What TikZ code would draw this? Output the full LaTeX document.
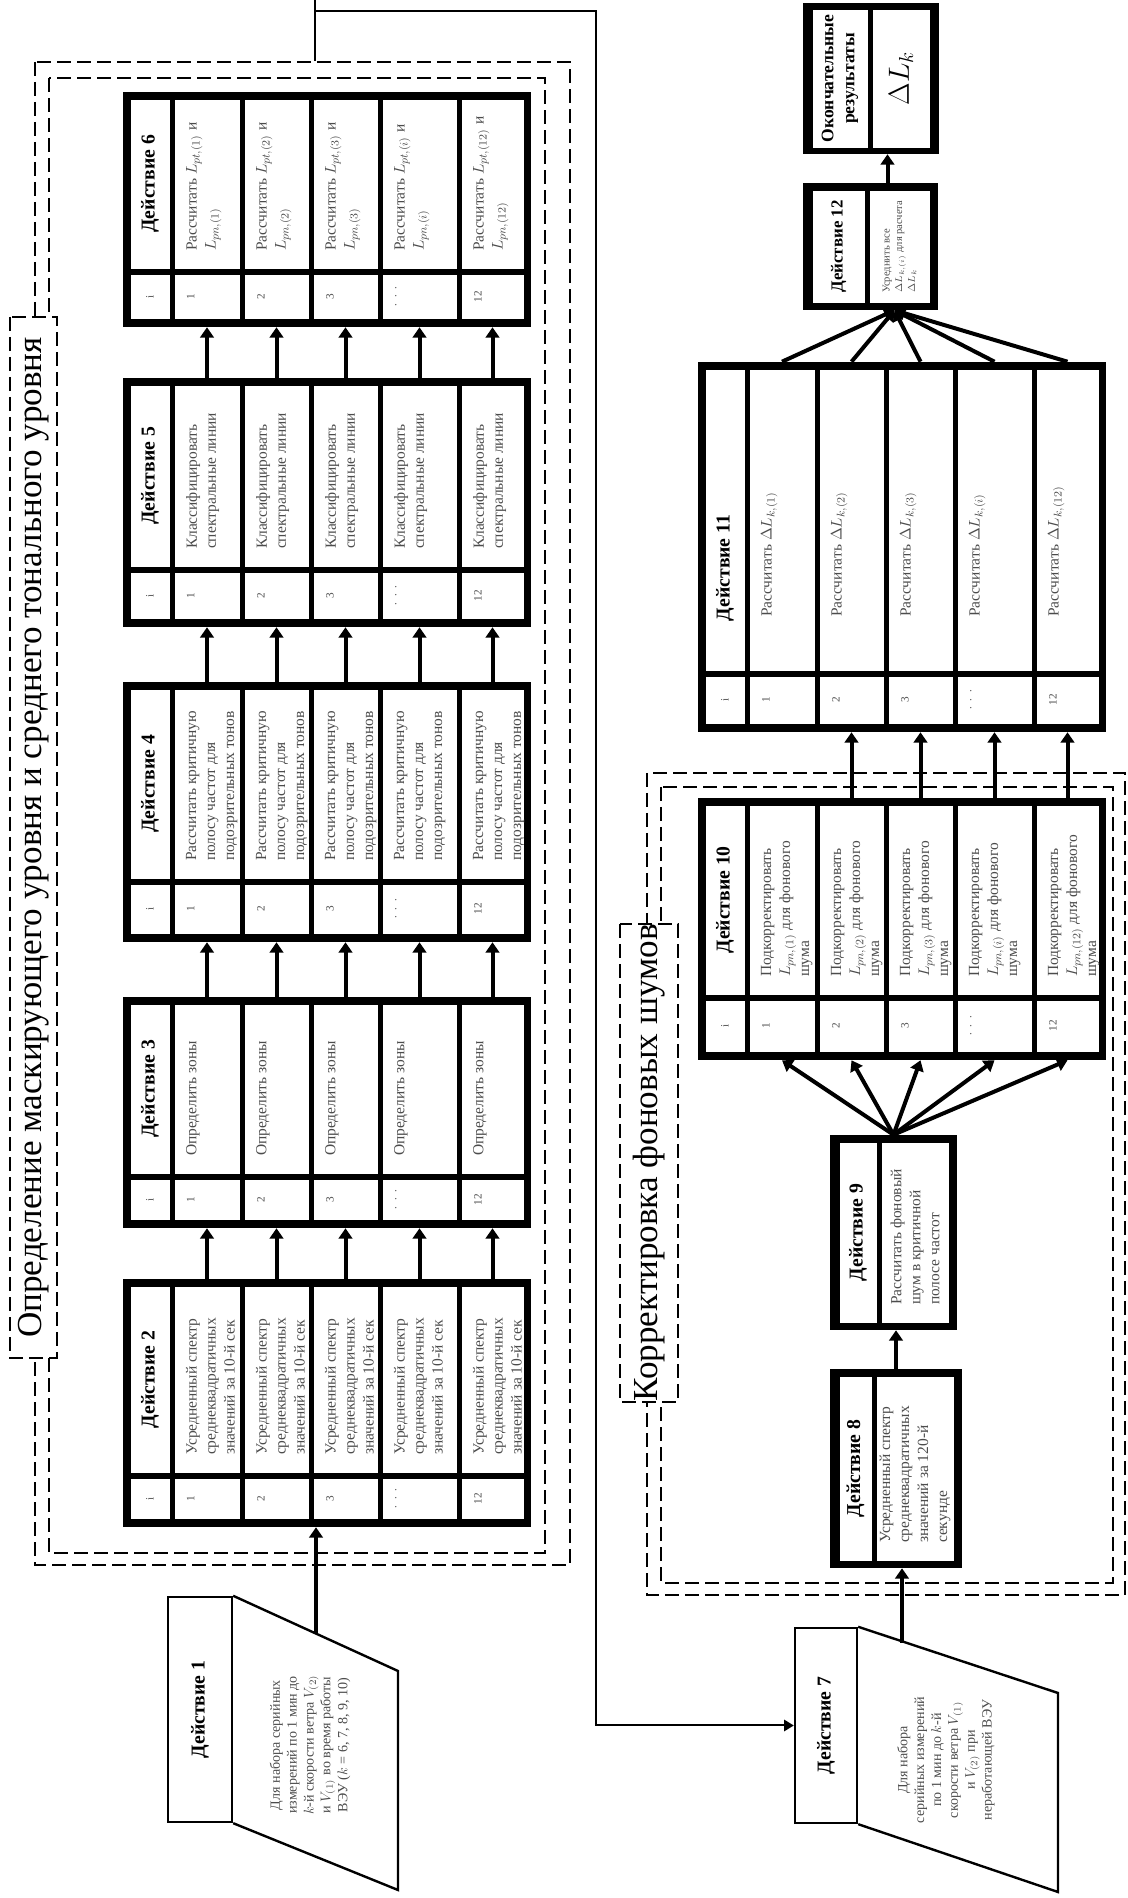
\documentclass[tikz,border=0pt]{standalone}
\usepackage{fontspec}
\setmainfont{Liberation Serif}
\usetikzlibrary{arrows.meta,calc,positioning}

\tikzset{
  frm/.style={fill=black,inner sep=0pt},
  cell/.style={draw=black,line width=0.3pt,fill=white,inner sep=0pt},
  hdr/.style={align=center,font=\fontsize{14}{16}\selectfont\bfseries},
  txt/.style={inner sep=0pt,align=left,text=black!70,font=\fontsize{11}{13.5}\selectfont},
  note/.style={inner sep=0pt,align=center,text=black!70,font=\fontsize{10}{12}\selectfont},
  num/.style={inner sep=0pt,text=black!70,font=\fontsize{8}{9}\selectfont},
  arr/.style={line width=1mm,-{Triangle[width=3.4mm,length=2.6mm]}},
  link/.style={line width=0.5mm},
  grp/.style={draw,line width=0.5mm,dash pattern=on 3.5mm off 1.5mm,inner sep=0pt},
  ttl/.style={grp,fill=white,font=\fontsize{25}{27}\selectfont},
  inp/.style={draw,line width=0.6mm,inner sep=0pt},
}

% row texts of the tables
\newcommand\txtB[1]{Усредненный спектр\\ среднеквадратичных\\ значений за 10-й сек}
\newcommand\txtC[1]{Определить зоны}
\newcommand\txtD[1]{Рассчитать критичную\\ полосу частот для\\ подозрительных тонов}
\newcommand\txtE[1]{Классифицировать\\ спектральные линии}
\newcommand\txtF[1]{Рассчитать $L_{pt,(#1)}$ и\\ $L_{pn,(#1)}$}
\newcommand\txtJ[1]{Подкорректировать\\ $L_{pn,(#1)}$ для фонового\\ шума}
\newcommand\txtK[1]{Рассчитать $\Delta L_{k,(#1)}$}
\newcommand\tabindent{18}

% table: name, left P, top Q, number width, text width, header, row text
\newcommand\acttab[7]{%
  \node[frm,minimum width={(#4+#5+20)*0.25mm},minimum height=102mm] (#1) at ({#2+(#4+#5+20)/2},{#3+204}) {};
  \node[cell,num,minimum width={#4*0.25mm},minimum height=10mm] (#1n0) at ({#2+8+#4/2},{#3+27}) {i};
  \node[cell,hdr,minimum width={#5*0.25mm},minimum height=10mm] (#1t0) at ({#2+13+#4+#5/2},{#3+27}) {#6};
  \foreach \r/\c/\h/\k/\m in {1/84/66/1/1,2/153.5/65/2/2,3/222.5/65/3/3,4/296.5/75/i/{.\ \ .\ \ .},5/369.5/63/12/12}{
    \node[cell,minimum width={#4*0.25mm},minimum height={\h*0.25mm}] (#1n\r) at ({#2+8+#4/2},{#3+\c}) {};
    \node[cell,minimum width={#5*0.25mm},minimum height={\h*0.25mm}] (#1t\r) at ({#2+13+#4+#5/2},{#3+\c}) {};
    \node[num,anchor=north] (#1m\r) at ($(#1n\r.north)+(0,13)$) {\m};
    \node[txt,anchor=north west] (#1l\r) at ($(#1t\r.north west)+(\tabindent,12)$) {#7{\k}};
  }
}

% box: name, P, Q, width, height, header height, header, text, text style
\newcommand\actbox[9]{%
  \node[frm,minimum width={#4*0.25mm},minimum height={#5*0.25mm}] (#1) at (#2,#3) {};
  \node[cell,hdr,minimum width={(#4-14)*0.25mm},minimum height={#6*0.25mm}] (#1h) at ({#2},{#3-#5/2+9+#6/2}) {#7};
  \node[cell,minimum width={(#4-14)*0.25mm},minimum height={(#5-21-#6)*0.25mm}] (#1t) at ({#2},{#3+#5/2-8-(#5-21-#6)/2}) {};
  \node[txt,anchor=west,#9] (#1l) at ($(#1t.west)+(18,0)$) {#8};
}

\begin{document}
\begin{tikzpicture}[x=0.25mm,y=-0.25mm,rotate=90,transform shape]
\useasboundingbox (0,0) rectangle (1898,1128);

% group frames
\node[grp,minimum width=1503*0.25mm,minimum height=535*0.25mm] (fr1o) at (1084.5,302.5) {};
\node[grp,minimum width=1475*0.25mm,minimum height=496*0.25mm] (fr1i) at (1082.5,297) {};
\node[grp,minimum width=822*0.25mm,minimum height=478*0.25mm] (fr2o) at (714,886) {};
\node[grp,minimum width=796*0.25mm,minimum height=452*0.25mm] (fr2i) at (713,887) {};
\node[ttl,minimum width=1041*0.25mm,minimum height=47*0.25mm] (ttl1) at (1060.5,33.5) {Определение маскирующего уровня и среднего тонального уровня};
\node[ttl,minimum width=478*0.25mm,minimum height=58*0.25mm] (ttl2) at (735,649) {Корректировка фоновых шумов};

% action 1
\node[inp,hdr,minimum width=225*0.25mm,minimum height=64*0.25mm] (a1h) at (188.5,200) {Действие 1};
\draw[inp] (a1h.south west) -- (8,398) -- (227,398) -- (a1h.south east);
\node[note] (a1) at (153,310) {Для набора серийных\\ измерений по 1 мин до\\ $k$-й скорости ветра $V_{(2)}$\\ и $V_{(1)}$ во время работы\\ ВЭУ ($k$ = 6, 7, 8, 9, 10)};

% action 7
\node[inp,hdr,minimum width=195*0.25mm,minimum height=62*0.25mm] (a7h) at (172.5,826) {Действие 7};
\draw[inp] (a7h.south west) -- (6,1058) -- (205,1058) -- (a7h.south east);
\node[note] (a7) at (138,946) {Для набора\\ серийных измерений\\ по 1 мин до $k$-й\\ скорости ветра $V_{(1)}$\\ и $V_{(2)}$ при\\ неработающей ВЭУ};

% tables
\acttab{a2}{371}{123}{41}{187}{Действие 2}{\txtB}
\acttab{a3}{670}{123}{41}{170}{Действие 3}{\txtC}
\acttab{a4}{956}{123}{50}{190}{Действие 4}{\txtD}
\acttab{a5}{1271}{123}{47}{182}{Действие 5}{\txtE}
\acttab{a6}{1571}{123}{45}{170}{Действие 6}{\txtF}
\acttab{a10}{838}{698}{52}{190}{Действие 10}{\txtJ}
\renewcommand\tabindent{54}
\acttab{a11}{1166}{698}{48}{302}{Действие 11\hspace*{24mm}}{\txtK}

\actbox{a8}{429.5}{896}{199}{132}{33}{Действие 8}{Усредненный спектр\\ среднеквадратичных\\ значений за 120-й\\ секунде}{}
\actbox{a9}{665.5}{893.5}{195}{127}{38}{Действие 9}{Рассчитать фоновый\\ шум в критичной\\ полосе частот}{}
\actbox{a12}{1651.5}{870.5}{127}{135}{53}{\fontsize{12}{14}\selectfont Действие 12}{Усреднить все\\ $\Delta L_{k,(i)}$ для расчета\\ $\Delta L_k$}{font=\fontsize{7.5}{9}\selectfont,xshift=-2mm}

% final results
\node[frm,minimum width=151*0.25mm,minimum height=136*0.25mm] (fin) at (1819.5,871) {};
\node[cell,hdr,font=\fontsize{12.5}{15}\selectfont\bfseries,minimum width=139*0.25mm,minimum height=56*0.25mm] (finh) at (1819.5,840) {Окончательные\\ результаты};
\node[cell,minimum width=139*0.25mm,minimum height=58*0.25mm,font=\fontsize{20}{22}\selectfont] (fint) at (1819.5,901) {$\Delta L_k$};

% connectors
\coordinate (a1o) at (264,316);
\draw[arr] (a1o) -- (a1o -| a2.west);
\foreach \pa/\pb in {a2/a3,a3/a4,a4/a5,a5/a6}
  \foreach \r in {1,...,5}
    \draw[arr] (\pa.east |- \pa t\r) -- (\pb.west |- \pa t\r);

\draw[link] (fr1o.east |- 0,315) -- (1898,315);
\draw[link,-{Triangle[width=2.8mm,length=2.4mm]}] (1887,315) -- (1887,596) -| (a7h.north);

\coordinate (a7o) at (255,902);
\draw[arr] (a7o) -- (a7o -| a8.west);
\draw[arr] (a8.east) -- (a8.east -| a9.west);
\foreach \r in {1,...,5}
  \draw[arr] (a9.east) -- (a10.west |- a10t\r);
\foreach \r in {2,...,5}
  \draw[arr] (a10.east |- a10t\r) -- (a11.west |- a10t\r);
\coordinate (a12i) at ($(a12.west)+(0,24)$);
\foreach \r in {1,...,5}
  \draw[arr] (a11.east |- a11t\r) -- (a12i);
\coordinate (fino) at ($(a12.east)+(0,17)$);
\draw[arr] (fino) -- (fino -| fin.west);
\end{tikzpicture}
\end{document}
